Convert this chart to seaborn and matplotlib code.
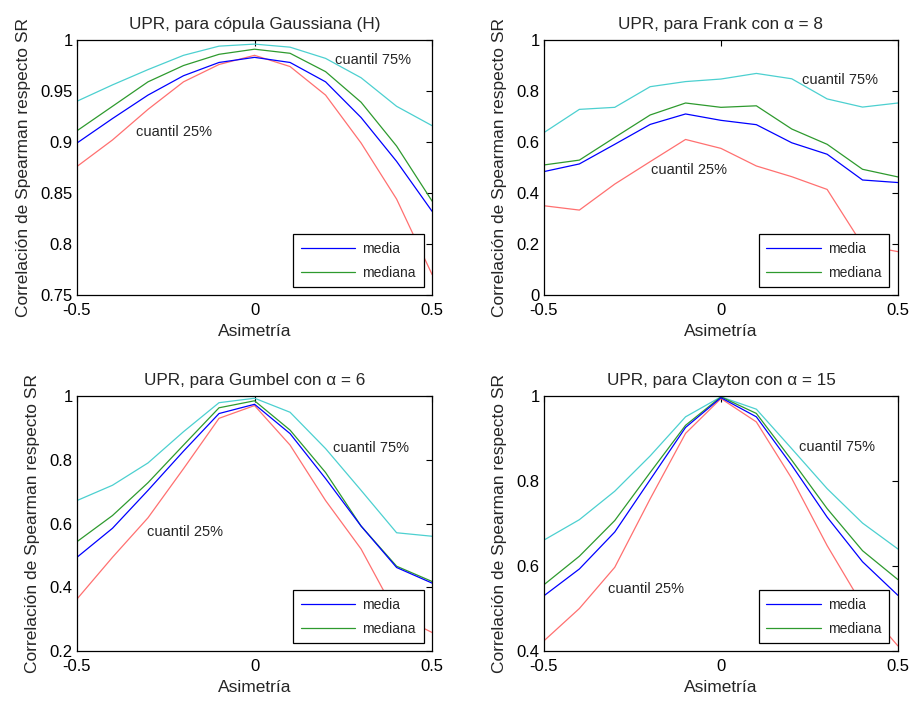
import numpy as np
import pandas as pd
import matplotlib
matplotlib.use("Agg")
import matplotlib.pyplot as plt
import seaborn as sns

asimetria = [-0.5, -0.4, -0.3, -0.2, -0.1, 0.0, 0.1, 0.2, 0.3, 0.4, 0.5]

titles = [
    "UPR, para cópula Gaussiana (H)",
    "UPR, para Frank con α = 8",
    "UPR, para Gumbel con α = 6",
    "UPR, para Clayton con α = 15",
]

# Gaussian
gauss_q75 = [0.940, 0.956, 0.971, 0.985, 0.994, 0.996, 0.993, 0.982, 0.963, 0.935, 0.916]
gauss_mediana = [0.911, 0.935, 0.959, 0.975, 0.986, 0.991, 0.987, 0.969, 0.939, 0.896, 0.842]
gauss_media = [0.899, 0.923, 0.946, 0.965, 0.978, 0.983, 0.978, 0.959, 0.924, 0.881, 0.832]
gauss_q25 = [0.876, 0.902, 0.932, 0.959, 0.976, 0.985, 0.974, 0.946, 0.899, 0.844, 0.770]

# Frank
frank_q75 = [0.637, 0.728, 0.736, 0.817, 0.837, 0.847, 0.869, 0.848, 0.769, 0.737, 0.753]
frank_mediana = [0.510, 0.529, 0.618, 0.706, 0.753, 0.736, 0.742, 0.651, 0.591, 0.493, 0.463]
frank_media = [0.484, 0.514, 0.591, 0.669, 0.710, 0.685, 0.668, 0.597, 0.552, 0.451, 0.441]
frank_q25 = [0.350, 0.333, 0.435, 0.523, 0.610, 0.575, 0.506, 0.464, 0.414, 0.196, 0.170]

# Gumbel
gumbel_q75 = [0.672, 0.720, 0.790, 0.888, 0.979, 0.993, 0.949, 0.835, 0.704, 0.571, 0.560]
gumbel_mediana = [0.543, 0.625, 0.728, 0.846, 0.963, 0.985, 0.893, 0.760, 0.592, 0.466, 0.418]
gumbel_media = [0.494, 0.585, 0.704, 0.827, 0.945, 0.974, 0.882, 0.741, 0.592, 0.462, 0.413]
gumbel_q25 = [0.363, 0.494, 0.618, 0.772, 0.930, 0.970, 0.846, 0.672, 0.520, 0.314, 0.258]

# Clayton
clayton_q75 = [0.661, 0.709, 0.776, 0.859, 0.951, 0.998, 0.969, 0.876, 0.782, 0.701, 0.640]
clayton_mediana = [0.556, 0.623, 0.707, 0.820, 0.931, 0.998, 0.959, 0.849, 0.735, 0.636, 0.568]
clayton_media = [0.530, 0.593, 0.680, 0.803, 0.926, 0.996, 0.951, 0.837, 0.715, 0.610, 0.531]
clayton_q25 = [0.424, 0.500, 0.597, 0.758, 0.912, 0.994, 0.939, 0.806, 0.648, 0.508, 0.412]

panels = [
    (gauss_q75, gauss_mediana, gauss_media, gauss_q25),
    (frank_q75, frank_mediana, frank_media, frank_q25),
    (gumbel_q75, gumbel_mediana, gumbel_media, gumbel_q25),
    (clayton_q75, clayton_mediana, clayton_media, clayton_q25),
]

ylims = [(0.75, 1.0), (0.0, 1.0), (0.2, 1.0), (0.4, 1.0)]
yticks = [
    [0.75, 0.8, 0.85, 0.9, 0.95, 1.0],
    [0, 0.2, 0.4, 0.6, 0.8, 1.0],
    [0.2, 0.4, 0.6, 0.8, 1.0],
    [0.4, 0.6, 0.8, 1.0],
]
ytick_labels = [
    ["0.75", "0.8", "0.85", "0.9", "0.95", "1"],
    ["0", "0.2", "0.4", "0.6", "0.8", "1"],
    ["0.2", "0.4", "0.6", "0.8", "1"],
    ["0.4", "0.6", "0.8", "1"],
]
xticks = [-0.5, 0, 0.5]
xtick_labels = ["-0.5", "0", "0.5"]

q75_pos = [(0.227, 0.980), (0.229, 0.843), (0.22, 0.837), (0.22, 0.881)]
q25_pos = [(-0.334, 0.910), (-0.198, 0.490), (-0.304, 0.574), (-0.32, 0.546)]

sns.set_style("white")
plt.rcParams["font.family"] = ["Liberation Sans", "DejaVu Sans"]

fig = plt.figure(figsize=(9.13, 7.01), dpi=100)
fig.patch.set_facecolor("white")

positions = [
    [0.0843, 0.5792, 0.389, 0.3637],
    [0.5958, 0.5792, 0.3877, 0.3637],
    [0.0843, 0.0713, 0.389, 0.3638],
    [0.5958, 0.0713, 0.3877, 0.3638],
]

c_cyan = "#4cd0d0"
c_green = "#2e9a2e"
c_blue = "#0000ff"
c_red = "#ff7070"

FS_TICK = 12
FS_TITLE = 12.3
FS_LABEL = 12.5
FS_NOTE = 10.5
FS_LEG = 10

for i, (q75, med, mean, q25) in enumerate(panels):
    ax = fig.add_axes(positions[i])
    df = pd.DataFrame({"x": asimetria, "q75": q75, "mediana": med, "media": mean, "q25": q25})
    sns.lineplot(data=df, x="x", y="q75", ax=ax, color=c_cyan, lw=0.9)
    sns.lineplot(data=df, x="x", y="q25", ax=ax, color=c_red, lw=0.9)
    sns.lineplot(data=df, x="x", y="mediana", ax=ax, color=c_green, lw=0.9, label="mediana")
    sns.lineplot(data=df, x="x", y="media", ax=ax, color=c_blue, lw=0.9, label="media")
    ax.set_xlim(-0.5, 0.5)
    ax.set_ylim(*ylims[i])
    ax.set_xticks(xticks)
    ax.set_xticklabels(xtick_labels)
    ax.set_yticks(yticks[i])
    ax.set_yticklabels(ytick_labels[i])
    ax.tick_params(direction="in", length=4, width=0.8, top=True, right=True,
                   labelsize=FS_TICK, colors="black")
    ax.tick_params(axis="x", pad=6)
    ax.tick_params(axis="y", pad=3)
    for s in ax.spines.values():
        s.set_color("black")
        s.set_linewidth(0.9)
        s.set_visible(True)
    ax.set_title(titles[i], fontsize=FS_TITLE, pad=8)
    ax.set_xlabel("Asimetría", fontsize=FS_LABEL, labelpad=4)
    ax.set_ylabel("Correlación de Spearman respecto SR", fontsize=FS_LABEL, labelpad=7)
    ax.text(q75_pos[i][0], q75_pos[i][1], "cuantil 75%", fontsize=FS_NOTE, va="center", ha="left")
    ax.text(q25_pos[i][0], q25_pos[i][1], "cuantil 25%", fontsize=FS_NOTE, va="center", ha="left")
    handles, labels = ax.get_legend_handles_labels()
    order = [labels.index("media"), labels.index("mediana")]
    leg = ax.legend([handles[k] for k in order], [labels[k] for k in order],
                    loc="lower right", bbox_to_anchor=(0.976, 0.03), borderaxespad=0,
                    fontsize=FS_LEG, frameon=True, fancybox=False, edgecolor="black",
                    framealpha=1, handlelength=3.9, handletextpad=0.55,
                    borderpad=0.55, labelspacing=0.7)
    leg.get_frame().set_linewidth(0.9)

fig.savefig("out.png", dpi=100, facecolor="white")
